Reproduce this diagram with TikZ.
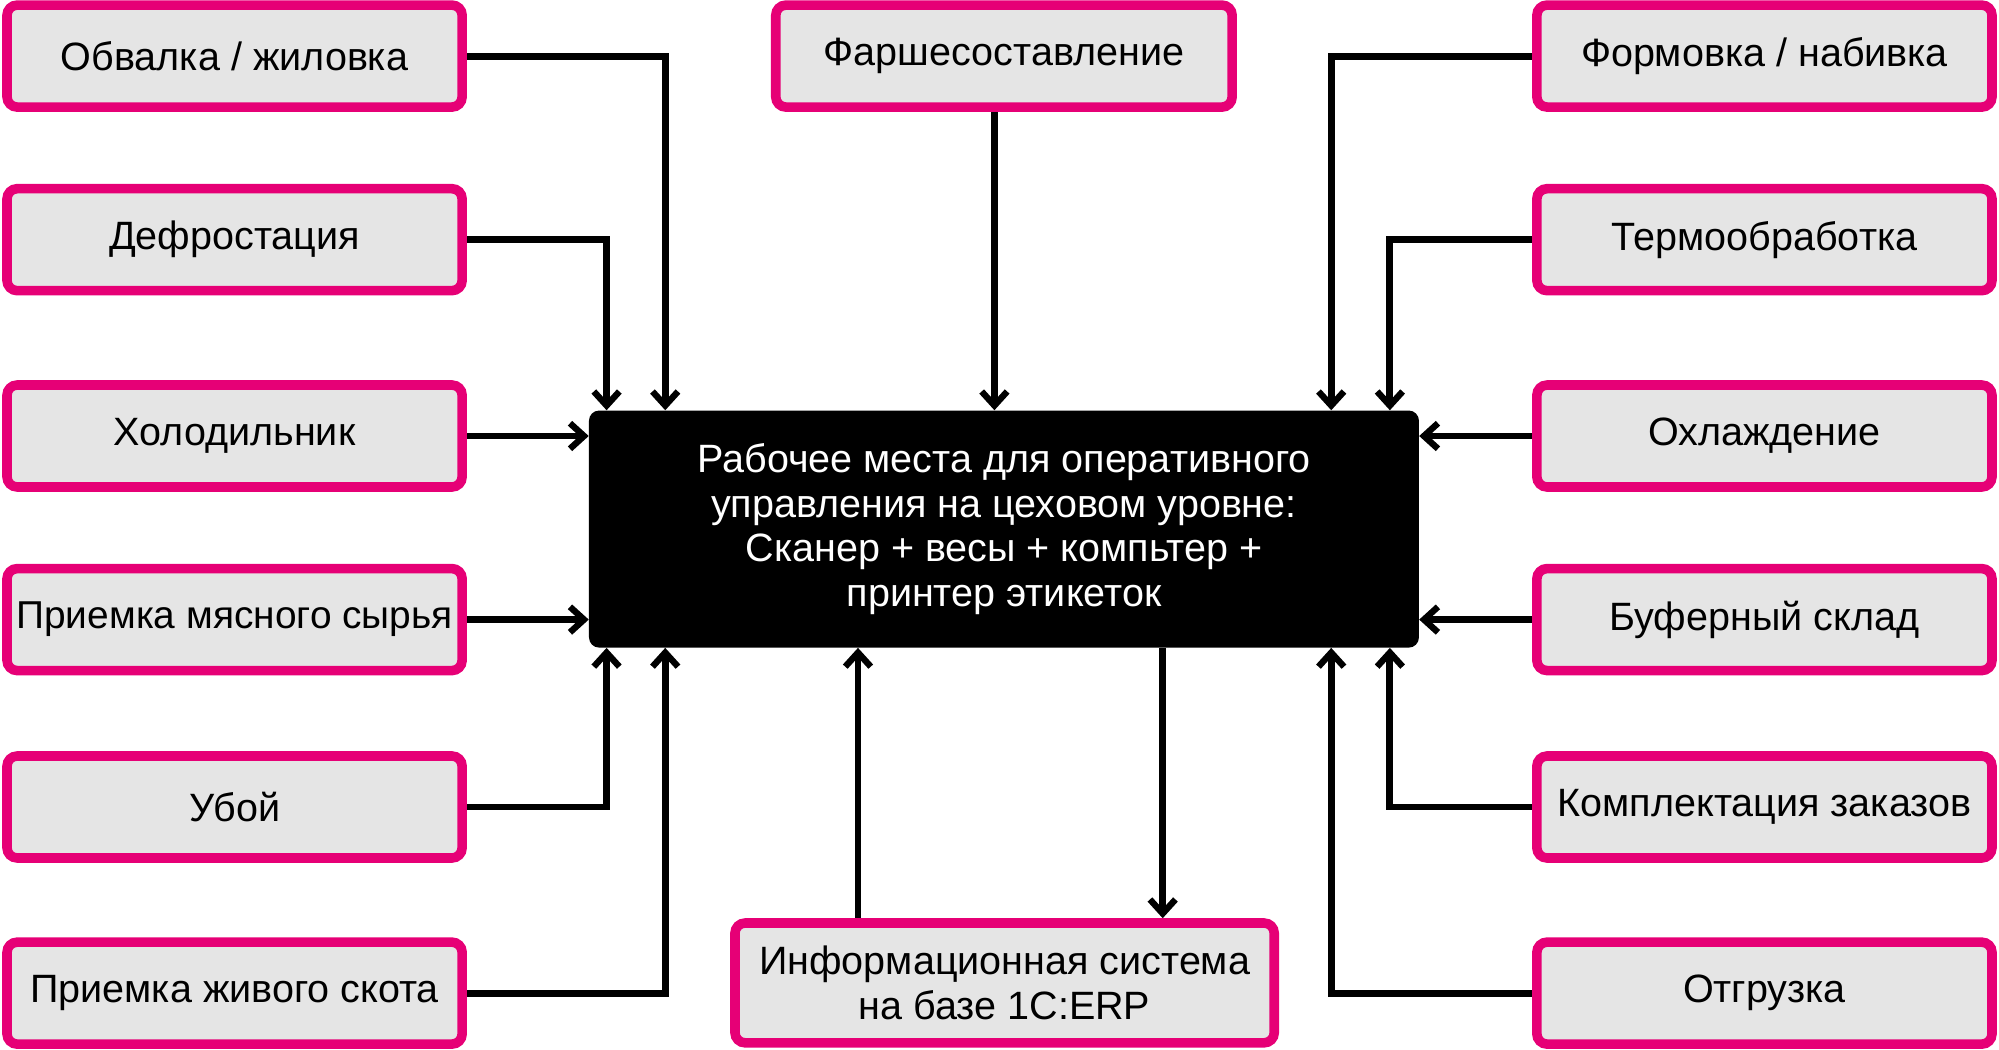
\documentclass[tikz,border=0pt]{standalone}
\usepackage{fontspec}
\setmainfont{Liberation Sans}
\usetikzlibrary{arrows.meta,calc,backgrounds}
\definecolor{pinkb}{RGB}{230,0,118}
\definecolor{boxg}{RGB}{229,229,229}
\begin{document}
\begin{tikzpicture}[x=1pt,y=-1pt,
  proc/.style={draw=pinkb, line width=7.5pt, fill=boxg, rounded corners=8pt,
    minimum width=357pt, minimum height=80pt, inner sep=0pt,
    font=\fontsize{31}{35}\selectfont, align=center},
  hub/.style={fill=black, rounded corners=8pt, minimum width=651pt,
    minimum height=186pt, inner sep=0pt, text=white,
    font=\fontsize{31}{35}\selectfont, align=center},
  arr/.style={line width=5.4pt, draw=black,
    -{Straight Barb[length=11pt,width=20pt,line width=5pt]}}
]
\useasboundingbox (0,0) rectangle (1568,823.6);
% hub
\node[hub] (C) at (787.5,415) {\raisebox{-2pt}{\parbox{600pt}{\centering Рабочее места для оперативного\\управления на цеховом уровне:\\Сканер + весы + компьтер +\\принтер этикеток}}};
% left column
\node[proc] (L1) at (184,44)  {Обвалка / жиловка};
\node[proc] (L2) at (184,188) {Дефростация};
\node[proc] (L3) at (184,342) {Холодильник};
\node[proc, font=\fontsize{30.5}{35}\selectfont] (L4) at (184,486) {Приемка мясного сырья};
\node[proc] (L5) at (184,633) {Убой};
\node[proc] (L6) at (184,779) {Приемка живого скота};
% right column
\node[proc] (R1) at (1384,44)  {Формовка / набивка};
\node[proc] (R2) at (1384,188) {Термообработка};
\node[proc] (R3) at (1384,342) {Охлаждение};
\node[proc] (R4) at (1384,486) {Буферный склад};
\node[proc] (R5) at (1384,633) {Комплектация заказов};
\node[proc] (R6) at (1384,779) {Отгрузка};
% top and bottom
\node[proc, minimum width=358pt] (T) at (787.5,44) {Фаршесоставление};
\node[proc, minimum width=423pt, minimum height=94pt] (B) at (788,771) {Информационная система\\на базе 1С:ERP};
% connectors
\begin{scope}[on background layer]
\coordinate (cL1) at ($(C.north west)+(60,0)$);
\coordinate (cL2) at ($(C.north west)+(14,0)$);
\coordinate (cL5) at ($(C.south west)+(14,0)$);
\coordinate (cL6) at ($(C.south west)+(60,0)$);
\coordinate (cR1) at ($(C.north east)+(-69,0)$);
\coordinate (cR2) at ($(C.north east)+(-23,0)$);
\coordinate (cR5) at ($(C.south east)+(-23,0)$);
\coordinate (cR6) at ($(C.south east)+(-69,0)$);
\coordinate (cBu) at (673,0);
\coordinate (cBd) at (912,0);
\coordinate (cT) at (780,0);
\draw[arr] (L1.east) -| (cL1);
\draw[arr] (L2.east) -| (cL2);
\draw[arr] (L3.east) -- (L3.east -| C.west);
\draw[arr] (L4.east) -- (L4.east -| C.west);
\draw[arr] (L5.east) -| (cL5);
\draw[arr] (L6.east) -| (cL6);
\draw[arr] (R1.west) -| (cR1);
\draw[arr] (R2.west) -| (cR2);
\draw[arr] (R3.west) -- (R3.west -| C.east);
\draw[arr] (R4.west) -- (R4.west -| C.east);
\draw[arr] (R5.west) -| (cR5);
\draw[arr] (R6.west) -| (cR6);
\draw[arr] (T.south -| cT) -- (C.north -| cT);
\draw[arr] (B.north -| cBu) -- (C.south -| cBu);
\draw[arr] (C.south -| cBd) -- (B.north -| cBd);
\end{scope}
\end{tikzpicture}
\end{document}
